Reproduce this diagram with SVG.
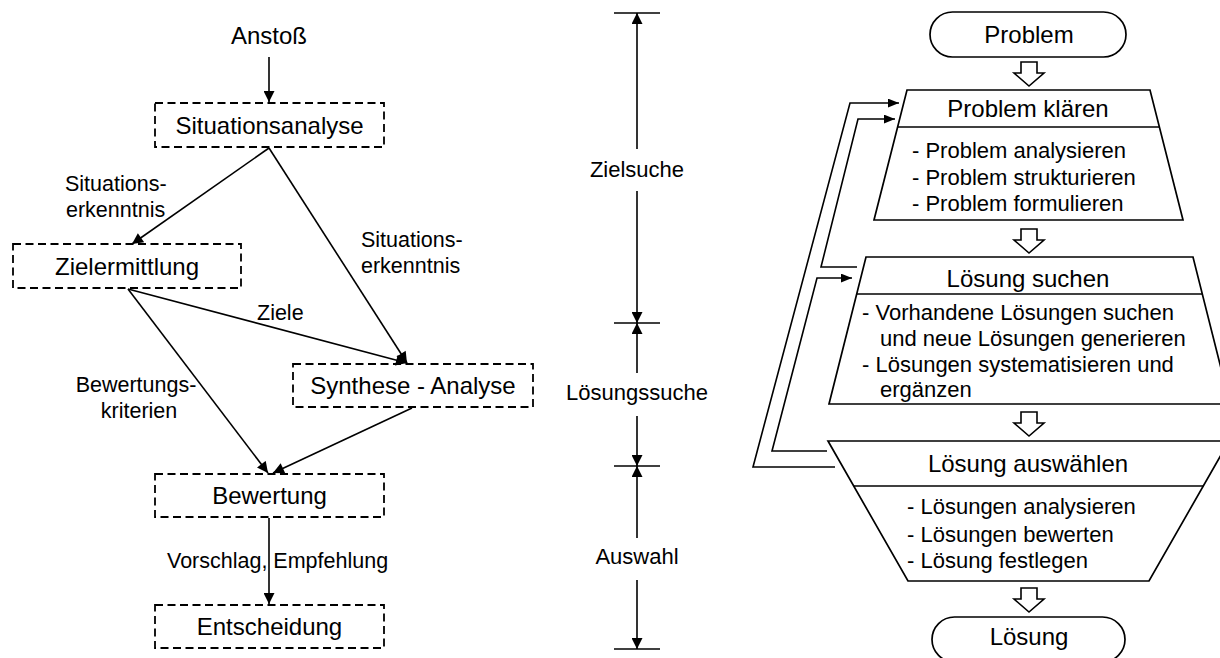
<svg xmlns="http://www.w3.org/2000/svg" width="1220" height="658" viewBox="0 0 1220 658">
  <style>
    text { font-family: "Liberation Sans", Arial, sans-serif; fill: #000; }
    .node { font-size: 24px; text-anchor: middle; }
    .lbl { font-size: 21.5px; }
    .ax { font-size: 22px; text-anchor: middle; }
    .body { font-size: 22px; }
    .dash { fill: none; stroke: #000; stroke-width: 1.8; stroke-dasharray: 8 4.5; }
    .shape { fill: #fff; stroke: #000; stroke-width: 1.7; }
    .ln { fill: none; stroke: #000; stroke-width: 1.6; }
    .blk { fill: #fff; stroke: #000; stroke-width: 1.6; stroke-linejoin: miter; }
  </style>
  <defs>
    <marker id="ah" viewBox="0 0 10 10" refX="10" refY="5" markerWidth="12" markerHeight="11" markerUnits="userSpaceOnUse" orient="auto">
      <path d="M0,0 L10,5 L0,10 z" fill="#000"/>
    </marker>
    <marker id="sm" viewBox="0 0 10 8" refX="10" refY="4" markerWidth="11" markerHeight="9" markerUnits="userSpaceOnUse" orient="auto">
      <path d="M0,0 L10,4 L0,8 z" fill="#000"/>
    </marker>
    <!-- hollow block arrow pointing down, top-centre at origin -->
    <path id="blockArrow" d="M-8,0 H8 V11 H15 L0,24 L-15,11 H-8 Z"/>
  </defs>

  <!-- ===== left: decision process ===== -->
  <text id="anstoss" class="node" x="269" y="44">Anstoß</text>

  <g id="situationsanalyse">
    <rect class="dash" x="155" y="103" width="229" height="44"/>
    <text class="node" x="269.5" y="134">Situationsanalyse</text>
  </g>
  <g id="zielermittlung">
    <rect class="dash" x="13" y="244" width="228" height="44"/>
    <text class="node" x="127" y="275">Zielermittlung</text>
  </g>
  <g id="synthese-analyse">
    <rect class="dash" x="293" y="364" width="240" height="43"/>
    <text class="node" x="413" y="394">Synthese - Analyse</text>
  </g>
  <g id="bewertung">
    <rect class="dash" x="155" y="474" width="229" height="43"/>
    <text class="node" x="269.5" y="504">Bewertung</text>
  </g>
  <g id="entscheidung">
    <rect class="dash" x="155" y="605" width="229" height="43"/>
    <text class="node" x="269.5" y="635">Entscheidung</text>
  </g>

  <g id="left-connectors" class="ln">
    <line x1="269" y1="57" x2="269" y2="102" marker-end="url(#ah)"/>
    <line x1="269" y1="148" x2="132" y2="244" marker-end="url(#ah)"/>
    <line x1="269" y1="148" x2="407" y2="363" marker-end="url(#ah)"/>
    <line x1="128" y1="289" x2="407" y2="363" marker-end="url(#ah)"/>
    <line x1="128" y1="289" x2="268" y2="473" marker-end="url(#ah)"/>
    <line x1="412" y1="408" x2="273" y2="473" marker-end="url(#ah)"/>
    <line x1="269" y1="518" x2="269" y2="604" marker-end="url(#ah)"/>
  </g>

  <g id="left-labels" class="lbl">
    <text x="65" y="191">Situations-</text>
    <text x="66" y="217">erkenntnis</text>
    <text x="361" y="247">Situations-</text>
    <text x="361" y="273">erkenntnis</text>
    <text x="257" y="320">Ziele</text>
    <text x="136" y="392" text-anchor="middle">Bewertungs-</text>
    <text x="139" y="418" text-anchor="middle">kriterien</text>
    <text x="167" y="568">Vorschlag, Empfehlung</text>
  </g>

  <!-- ===== middle: phase axis ===== -->
  <g id="phase-axis" class="ln">
    <line x1="614" y1="13" x2="660" y2="13"/>
    <line x1="614" y1="323" x2="660" y2="323"/>
    <line x1="614" y1="466" x2="660" y2="466"/>
    <line x1="614" y1="649" x2="660" y2="649"/>
    <line x1="637" y1="149" x2="637" y2="13" marker-end="url(#ah)"/>
    <line x1="637" y1="191" x2="637" y2="323" marker-end="url(#ah)"/>
    <line x1="637" y1="373" x2="637" y2="323" marker-end="url(#ah)"/>
    <line x1="637" y1="416" x2="637" y2="466" marker-end="url(#ah)"/>
    <line x1="637" y1="538" x2="637" y2="466" marker-end="url(#ah)"/>
    <line x1="637" y1="580" x2="637" y2="649" marker-end="url(#ah)"/>
  </g>
  <g id="phase-labels" class="ax">
    <text x="637" y="177">Zielsuche</text>
    <text x="637" y="400">Lösungssuche</text>
    <text x="637" y="564">Auswahl</text>
  </g>

  <!-- ===== right: problem-solving cycle ===== -->
  <g id="problem">
    <rect class="shape" x="930" y="12" width="196" height="45" rx="22.5" ry="22.5"/>
    <text class="node" x="1029" y="43">Problem</text>
  </g>

  <g id="problem-klaeren">
    <path class="shape" d="M907,90 H1150 L1183,220 H874 Z"/>
    <line class="ln" x1="897.6" y1="127" x2="1159.4" y2="127"/>
    <text class="node" x="1028" y="117">Problem klären</text>
    <text class="body" x="912" y="158">- Problem analysieren</text>
    <text class="body" x="912" y="185">- Problem strukturieren</text>
    <text class="body" x="912" y="211">- Problem formulieren</text>
  </g>

  <g id="loesung-suchen">
    <path class="shape" d="M866,257 H1193 L1230,404 H829 Z"/>
    <line class="ln" x1="856.7" y1="294" x2="1202.3" y2="294"/>
    <text class="node" x="1028" y="287">Lösung suchen</text>
    <text class="body" x="862" y="320">- Vorhandene Lösungen suchen</text>
    <text class="body" x="880" y="346">und neue Lösungen generieren</text>
    <text class="body" x="862" y="372">- Lösungen systematisieren und</text>
    <text class="body" x="880" y="397">ergänzen</text>
  </g>

  <g id="loesung-auswaehlen">
    <path class="shape" d="M828,441 H1229 L1149,581 H908 Z"/>
    <line class="ln" x1="853.7" y1="486" x2="1203.3" y2="486"/>
    <text class="node" x="1028" y="472">Lösung auswählen</text>
    <text class="body" x="907" y="514">- Lösungen analysieren</text>
    <text class="body" x="907" y="542">- Lösungen bewerten</text>
    <text class="body" x="907" y="568">- Lösung festlegen</text>
  </g>

  <g id="loesung">
    <rect class="shape" x="932" y="617" width="193" height="45" rx="22.5" ry="22.5"/>
    <text class="node" x="1029" y="645">Lösung</text>
  </g>

  <g id="right-connectors">
    <use href="#blockArrow" class="blk" x="1029" y="62"/>
    <use href="#blockArrow" class="blk" x="1029" y="229"/>
    <use href="#blockArrow" class="blk" x="1029" y="412"/>
    <use href="#blockArrow" class="blk" x="1029" y="588"/>
    <!-- feedback loops -->
    <polyline class="ln" points="835,467 753,467 850,103 899,103" marker-end="url(#sm)"/>
    <polyline class="ln" points="827,451 772,451 817,278 852,278" marker-end="url(#sm)"/>
    <polyline class="ln" points="857,267 821,267 858,119 895,119" marker-end="url(#sm)"/>
  </g>
</svg>
